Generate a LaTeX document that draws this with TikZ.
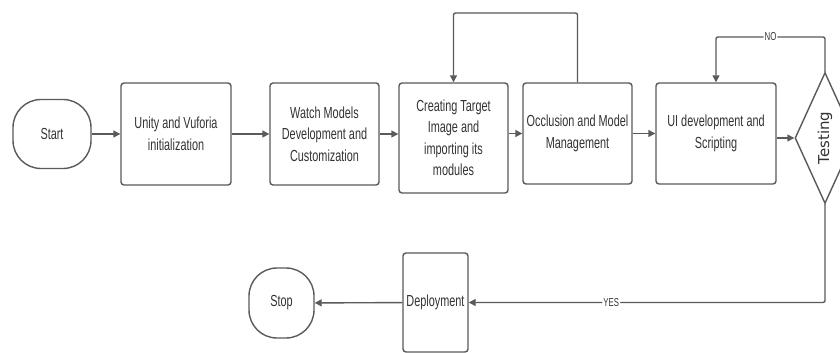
\documentclass[tikz,border=0pt]{standalone}
\usepackage{fontspec}
\setmainfont{Liberation Sans}[FakeStretch=0.68]
\newfontfamily\testfont{DejaVu Sans}
\usetikzlibrary{arrows.meta,shapes.geometric}
\definecolor{lc}{HTML}{5A5A5A}
\definecolor{tc}{HTML}{333333}
\begin{document}
\begin{tikzpicture}[x=1pt,y=-1pt,
  line/.style={draw=lc, line width=1.4pt, rounded corners=2pt},
  arr/.style={line, -{Triangle[length=7pt,width=7pt]}},
  box/.style={draw=lc, line width=1.4pt, rounded corners=3pt, inner sep=2pt, align=center,
    font=\fontsize{16}{21.5}\selectfont, text=tc},
  term/.style={box, rounded corners=28pt},
  lbl/.style={fill=white, inner sep=1pt, font=\fontsize{11.5}{13}\selectfont, text=tc}]
\useasboundingbox (0,0) rectangle (840,353);
\clip (0,0) rectangle (840,353);
\fill[white] (0,0) rectangle (840,353);
\node[term, minimum width=78pt, minimum height=69pt] (start) at (52,134) {Start};
\node[box, minimum width=110pt, minimum height=102pt] (unity) at (176,134) {Unity and Vuforia\\initialization};
\node[box, minimum width=109pt, minimum height=102pt] (watch) at (324.5,134) {Watch Models\\Development and\\Customization};
\node[box, minimum width=109pt, minimum height=110pt] (crea) at (453.5,138) {Creating Target\\Image and\\importing its\\modules};
\node[box, minimum width=109pt, minimum height=101pt] (occ) at (577.5,133.5) {Occlusion and Model\\Management};
\node[box, minimum width=120pt, minimum height=101pt] (ui) at (716,133.5) {UI development and\\Scripting};
\node[draw=lc, line width=1.4pt, diamond, minimum width=60pt, minimum height=131pt, inner sep=0pt] (test) at (825,138) {};
\node[rotate=90, text=tc, font=\testfont\fontsize{15}{18}\selectfont] (testlbl) at (test.center) {Testing};
\node[box, minimum width=65pt, minimum height=99pt] (deploy) at (435.5,302.5) {Deployment};
\node[term, minimum width=65pt, minimum height=70pt] (stop) at (281.5,303) {Stop};
\draw[arr] (start) -- (unity);
\draw[arr] (unity) -- (watch);
\draw[arr] (watch.east) -- (watch.east -| crea.west);
\draw[arr] (crea.east |- occ.west) -- (occ.west);
\draw[arr] (occ) -- (ui);
\draw[arr] (ui.east |- test.west) -- (test.west);
\draw[arr] (occ.north) -- (occ.north |- 0,13) -| (crea.north);
\draw[arr] (test.north) -- (test.north |- 0,37) -| node[lbl, pos=0.25] {NO} (ui.north);
\draw[arr] (test.south) |- node[lbl, pos=0.8] {YES} (deploy.east);
\draw[arr] (deploy) -- (stop);
\end{tikzpicture}
\end{document}
